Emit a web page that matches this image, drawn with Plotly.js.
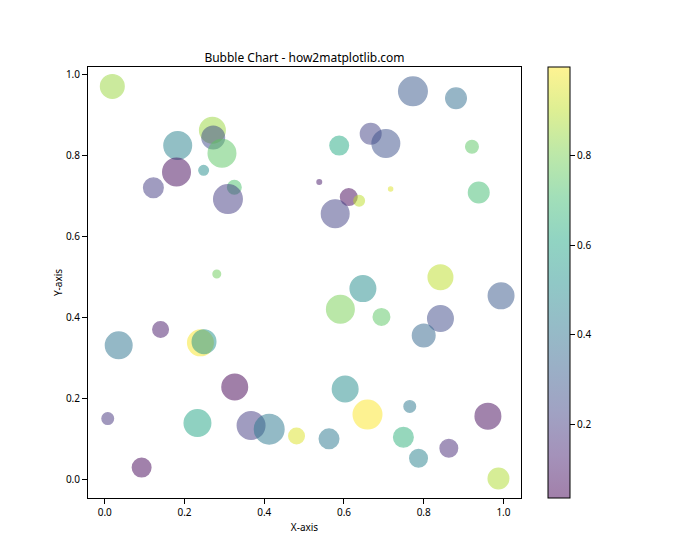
<!DOCTYPE html>
<html>
<head>
<meta charset="utf-8">
<script src="https://cdn.plot.ly/plotly-3.0.1.min.js"></script>
<style>html,body{margin:0;padding:0;background:#fff;}</style>
</head>
<body>
<div id="chart" style="width:700px;height:560px;"></div>
<script>
// ---- data ----
const xVals = [0.019,0.270,0.272,0.183,0.294,0.180,0.248,0.122,0.325,0.309,
               0.281,0.773,0.881,0.667,0.705,0.588,0.921,0.538,0.612,0.638,
               0.717,0.578,0.938,0.140,0.035,0.240,0.249,0.326,0.0075,0.2325,
               0.367,0.4125,0.481,0.0925,0.6475,0.842,0.591,0.694,0.842,0.800,
               0.994,0.603,0.659,0.765,0.961,0.5625,0.749,0.787,0.863,0.9875];
const yVals = [0.971,0.863,0.845,0.825,0.806,0.760,0.764,0.721,0.722,0.693,
               0.508,0.959,0.942,0.854,0.830,0.825,0.822,0.735,0.698,0.689,
               0.718,0.657,0.709,0.371,0.332,0.338,0.341,0.229,0.151,0.140,
               0.134,0.125,0.108,0.030,0.472,0.500,0.421,0.402,0.398,0.356,
               0.454,0.224,0.161,0.181,0.157,0.101,0.105,0.053,0.078,0.003];
const colorVals = [0.85,0.85,0.25,0.45,0.75,0.06,0.50,0.20,0.72,0.20,
                   0.78,0.30,0.38,0.22,0.27,0.62,0.75,0.10,0.05,0.90,
                   0.95,0.22,0.70,0.10,0.40,0.99,0.52,0.036,0.18,0.60,
                   0.20,0.42,0.95,0.05,0.50,0.90,0.80,0.75,0.25,0.35,
                   0.30,0.50,0.998,0.42,0.06,0.42,0.65,0.45,0.15,0.88];
const bubbleDiam = [25,27,24,29,29,29,11,21,15,30,
                    9,30,22,22,29,20,14,6,18,12,
                    5.5,29,22,17,28,27,25,27,13,28,
                    29,31,17,20,27,26,29,18,27,24,
                    27,27,30,13,27,21,21,19,19,22];
const xTicks = [0.0,0.2,0.4,0.6,0.8,1.0];
const yTicks = [0.0,0.2,0.4,0.6,0.8,1.0];
const cbarTicks = [0.2,0.4,0.6,0.8];

// ---- styling ----
const viridisHex = ['#440154','#482475','#414487','#355f8d','#2a788e','#21918c',
                    '#22a884','#44bf70','#7ad151','#bddf26','#fde725'];
const viridis = viridisHex.map((h,i)=>[i/10,h]);
function blendWhite(h,a){
  const r=parseInt(h.slice(1,3),16),g=parseInt(h.slice(3,5),16),b=parseInt(h.slice(5,7),16);
  const f=c=>Math.round(c*a+255*(1-a));
  return 'rgb('+f(r)+','+f(g)+','+f(b)+')';
}
const viridisLight = viridisHex.map((h,i)=>[i/10,blendWhite(h,0.5)]);
const cmin = Math.min(...colorVals), cmax = Math.max(...colorVals);
const font = 'Noto Sans, DejaVu Sans, sans-serif';

const bubbles = {
  type:'scatter', mode:'markers', x:xVals, y:yVals, hoverinfo:'x+y',
  marker:{
    size: bubbleDiam.map(d=>Math.max(d-1.4,1)),
    color: colorVals, colorscale: viridis, cmin:cmin, cmax:cmax,
    opacity:0.5, showscale:false,
    line:{width:1.4, color:colorVals, colorscale:viridis, cmin:cmin, cmax:cmax}
  },
  showlegend:false
};
const scaleTrace = {
  type:'scatter', mode:'markers', x:xVals, y:yVals, hoverinfo:'skip',
  marker:{
    size:1, opacity:0, color: colorVals, colorscale: viridisLight, cmin:cmin, cmax:cmax,
    showscale:true,
    colorbar:{
      x:1.0625, xanchor:'left', xref:'paper', xpad:0, ypad:0,
      y:0.5, yanchor:'middle', len:1, lenmode:'fraction',
      thickness:21.5, thicknessmode:'pixels',
      outlinewidth:1, outlinecolor:'#000',
      ticks:'outside', ticklen:5, tickwidth:1, tickcolor:'#000',
      tickvals:cbarTicks, ticktext:cbarTicks.map(v=>v.toFixed(1)),
      tickfont:{family:font,size:10,color:'#000'}
    }
  },
  showlegend:false
};

const axisCommon = {
  showgrid:false, zeroline:false, showline:true, linecolor:'#000', linewidth:1, mirror:true,
  ticks:'outside', ticklen:5, tickwidth:1, tickcolor:'#000',
  tickfont:{family:font,size:10,color:'#000'}
};
const layout = {
  width:700, height:560, paper_bgcolor:'#fff', plot_bgcolor:'#fff',
  margin:{l:88, r:178.5, t:67, b:62},
  title:{text:'Bubble Chart - how2matplotlib.com', font:{family:font,size:12,color:'#000'},
         x:0.5, xref:'paper', y:1, yref:'paper', yanchor:'bottom', pad:{b:5}},
  xaxis:Object.assign({}, axisCommon, {
    range:[-0.042,1.044], tickvals:xTicks, ticktext:xTicks.map(v=>v.toFixed(1)),
    title:{text:'X-axis', font:{family:font,size:10,color:'#000'}, standoff:5}
  }),
  yaxis:Object.assign({}, axisCommon, {
    range:[-0.045,1.019], tickvals:yTicks, ticktext:yTicks.map(v=>v.toFixed(1)),
    title:{text:'Y-axis', font:{family:font,size:10,color:'#000'}, standoff:1}
  })
};
Plotly.newPlot('chart',[bubbles, scaleTrace],layout,{displayModeBar:false, staticPlot:true});
</script>
</body>
</html>
